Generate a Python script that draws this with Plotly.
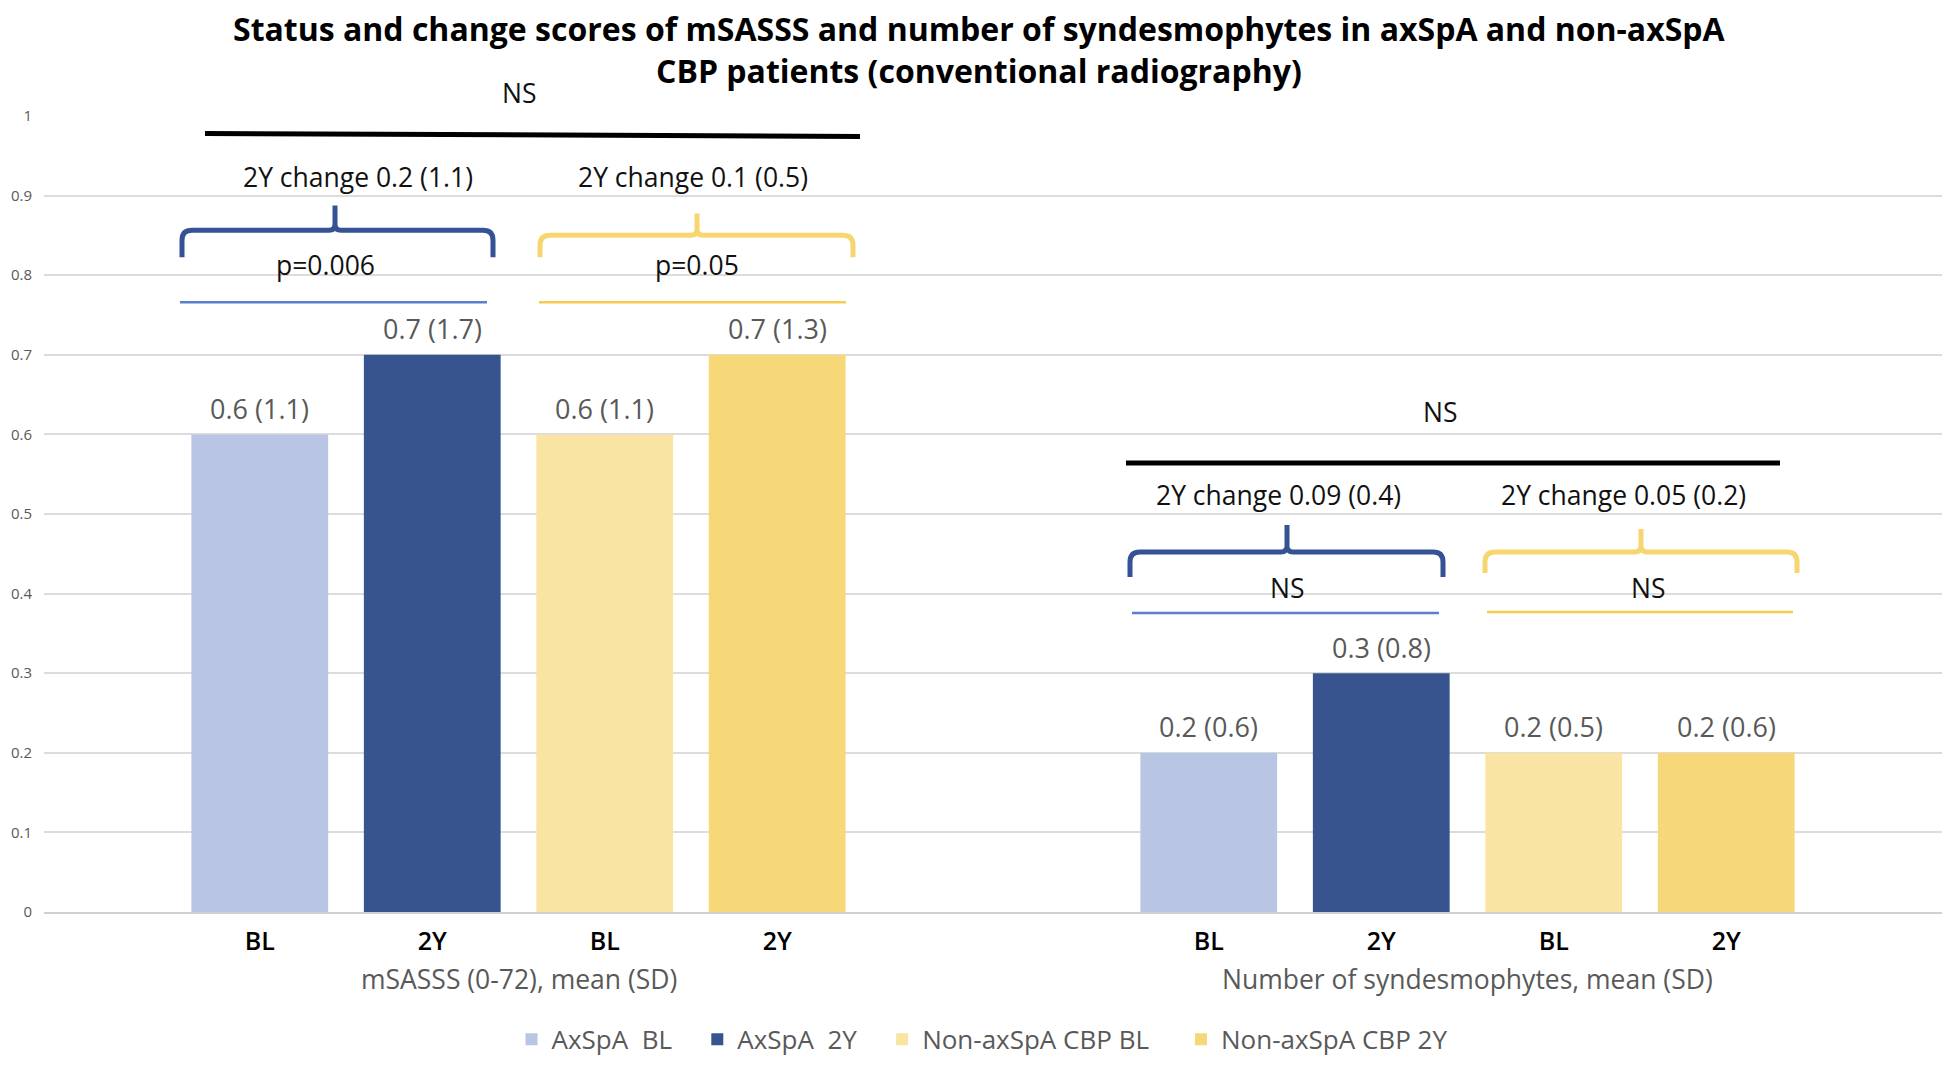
import plotly.graph_objects as go

# ---------------- data ----------------
groups = ["mSASSS (0-72), mean (SD)", "Number of syndesmophytes, mean (SD)"]
series_names = ["AxSpA\u00a0 BL", "AxSpA\u00a0 2Y", "Non-axSpA CBP BL", "Non-axSpA CBP 2Y"]
time_labels = ["BL", "2Y", "BL", "2Y"]

axspa_bl_mean = [0.6, 0.2]
axspa_bl_sd = [1.1, 0.6]
axspa_2y_mean = [0.7, 0.3]
axspa_2y_sd = [1.7, 0.8]
non_bl_mean = [0.6, 0.2]
non_bl_sd = [1.1, 0.5]
non_2y_mean = [0.7, 0.2]
non_2y_sd = [1.3, 0.6]

change_axspa = ["2Y change 0.2 (1.1)", "2Y change 0.09 (0.4)"]
change_non = ["2Y change 0.1 (0.5)", "2Y change 0.05 (0.2)"]
p_axspa = ["p=0.006", "NS"]
p_non = ["p=0.05", "NS"]
p_between = ["NS", "NS"]

y_tickvals = [0, 0.1, 0.2, 0.3, 0.4, 0.5, 0.6, 0.7, 0.8, 0.9, 1]
y_ticktext = ["0", "0.1", "0.2", "0.3", "0.4", "0.5", "0.6", "0.7", "0.8", "0.9", "1"]

# ---------------- style / geometry ----------------
FONT = "Open Sans"
bar_colors = ["#b8c6e4", "#37548f", "#f9e4a3", "#f7d878"]
brace_blue = "#345294"
brace_yellow = "#f7d670"
thin_blue = "#5b7fca"
thin_yellow = "#f5cb50"
BARGAP = 0.273
BARGROUPGAP = 0.207
TXT = 26.5

W, H = 1934, 1049          # page adds an 8px body margin on every side
ML, MR, MT, MB = 36, 0, 107.5, 144.5
PAGE_OFF = 8
PLOT_H = H - MT - MB
PLOT_W = W - ML - MR
CAT_W = PLOT_W / 2


def xr(px):
    """screen x (page px) -> x data units"""
    return (px - PAGE_OFF - ML) / CAT_W - 0.5


def xp(px):
    """screen x (page px) -> paper units"""
    return (px - PAGE_OFF - ML) / PLOT_W


def yr(py):
    """screen y (page px) -> y data units (== paper units, range is [0,1])"""
    return (H - MB - (py - PAGE_OFF)) / PLOT_H


means = [axspa_bl_mean, axspa_2y_mean, non_bl_mean, non_2y_mean]
sds = [axspa_bl_sd, axspa_2y_sd, non_bl_sd, non_2y_sd]
xg = list(range(len(groups)))

slot = (1 - BARGAP) / 4
offsets = [-(1 - BARGAP) / 2 + slot * (k + 0.5) for k in range(4)]
tickvals = [g + o for g in xg for o in offsets]
ticktext = time_labels * len(groups)

# legend names padded so entries are spaced like the original
legend_pad = ["\u00a0" * 3, "\u00a0" * 3, "\u00a0" * 4, ""]

fig = go.Figure()
annotations = []
for i in range(4):
    fig.add_trace(go.Bar(
        x=xg, y=means[i], name=series_names[i] + legend_pad[i],
        marker=dict(color=bar_colors[i], line=dict(width=0)),
        hoverinfo="skip",
    ))
    for g in xg:
        annotations.append(dict(
            x=g + offsets[i], y=means[i][g], xref="x", yref="y",
            text=f"{means[i][g]} ({sds[i][g]})", showarrow=False,
            xanchor="center", yanchor="middle", yshift=26,
            font=dict(family=FONT, size=27, color="#595959")))

# annotation geometry per group (screen px measured on the original)
geo = [
    dict(top_ns=(519, 92), top_line=(205, 860, 133, 136),
         ch_a=(358, 177), ch_n=(692.5, 177),
         br_a=(182, 493, 335, 230, 257, 205),
         br_n=(540, 853, 697, 235, 257, 213),
         p_a=(325, 265), p_n=(697, 265),
         th_a=(180, 487, 302), th_n=(539, 846, 302)),
    dict(top_ns=(1440, 412), top_line=(1126, 1780, 463, 463),
         ch_a=(1278, 495), ch_n=(1623, 495),
         br_a=(1130, 1443, 1287, 552, 577, 525),
         br_n=(1485, 1797, 1641, 552, 573, 529),
         p_a=(1287, 588), p_n=(1648, 588),
         th_a=(1132, 1439, 613), th_n=(1487, 1793, 612)),
]

RX, RY = 10 / CAT_W, 10 / PLOT_H


def brace_path(pl, pr, pm, ph, pe, pt):
    xl, xrr, xm = xr(pl), xr(pr), xr(pm)
    yh, ye, yt = yr(ph), yr(pe), yr(pt)
    rx, ry = RX, RY
    return (f"M {xl},{ye} L {xl},{yh - ry} Q {xl},{yh} {xl + rx},{yh} "
            f"L {xm - rx*0.6},{yh} Q {xm},{yh} {xm},{yh + ry*0.6} L {xm},{yt} "
            f"M {xm},{yh + ry*0.6} Q {xm},{yh} {xm + rx*0.6},{yh} "
            f"L {xrr - rx},{yh} Q {xrr},{yh} {xrr},{yh - ry} L {xrr},{ye}")


shapes = []


def txt(x, y, s, size=TXT, color="#111111", xref="x", yref="y", weight=None, pad=1):
    f = dict(family=FONT, size=size, color=color)
    if weight:
        f["weight"] = weight
    annotations.append(dict(x=x, y=y, xref=xref, yref=yref, text=s, showarrow=False,
                            xanchor="center", yanchor="middle", borderpad=pad, font=f))


for g in xg:
    d = geo[g]
    x0, x1, y0, y1 = d["top_line"]
    shapes.append(dict(type="line", xref="x", yref="y", x0=xr(x0), x1=xr(x1),
                       y0=yr(y0), y1=yr(y1), line=dict(color="#000000", width=5)))
    txt(xr(d["top_ns"][0]), yr(d["top_ns"][1]), p_between[g], yref="paper")
    txt(xr(d["ch_a"][0]), yr(d["ch_a"][1]), change_axspa[g])
    txt(xr(d["ch_n"][0]), yr(d["ch_n"][1]), change_non[g])
    shapes.append(dict(type="path", xref="x", yref="y", path=brace_path(*d["br_a"]),
                       line=dict(color=brace_blue, width=5)))
    shapes.append(dict(type="path", xref="x", yref="y", path=brace_path(*d["br_n"]),
                       line=dict(color=brace_yellow, width=5)))
    txt(xr(d["p_a"][0]), yr(d["p_a"][1]), p_axspa[g])
    txt(xr(d["p_n"][0]), yr(d["p_n"][1]), p_non[g])
    a0, a1, ay = d["th_a"]
    shapes.append(dict(type="line", xref="x", yref="y", x0=xr(a0), x1=xr(a1),
                       y0=yr(ay), y1=yr(ay), line=dict(color=thin_blue, width=2.5)))
    n0, n1, ny = d["th_n"]
    shapes.append(dict(type="line", xref="x", yref="y", x0=xr(n0), x1=xr(n1),
                       y0=yr(ny), y1=yr(ny), line=dict(color=thin_yellow, width=2.5)))
    # group (category) label
    txt(g, yr(980), groups[g], size=26.5, color="#595959", yref="paper")

# title (two lines)
txt(xp(979), yr(28), "<b>Status and change scores of mSASSS and number of syndesmophytes in axSpA and non-axSpA</b>",
    size=32, color="#000000", xref="paper", yref="paper", pad=0)
txt(xp(979), yr(70), "<b>CBP patients (conventional radiography)</b>",
    size=32, color="#000000", xref="paper", yref="paper", pad=0)

fig.update_layout(
    width=W, height=H,
    margin=dict(l=ML, r=MR, t=MT, b=MB, pad=0, autoexpand=False),
    paper_bgcolor="white", plot_bgcolor="white",
    barmode="group", bargap=BARGAP, bargroupgap=BARGROUPGAP,
    shapes=shapes, annotations=annotations,
    showlegend=True,
    legend=dict(orientation="h", x=xp(982), xanchor="center",
                y=yr(1040), yanchor="middle",
                font=dict(family=FONT, size=26, color="#595959"),
                itemclick=False, itemdoubleclick=False, traceorder="normal"),
    font=dict(family=FONT),
)
fig.update_xaxes(range=[-0.5, 1.5], tickvals=tickvals, ticktext=ticktext,
                 showgrid=False, zeroline=False, showline=True,
                 linecolor="#d0d0d0", linewidth=2, ticks="",
                 ticklabelstandoff=6,
                 tickfont=dict(family=FONT, size=25, color="#000000", weight=600))
fig.update_yaxes(range=[0, 1], tickvals=y_tickvals, ticktext=y_ticktext,
                 showgrid=True, gridcolor="#dcdcdc", gridwidth=1.5,
                 zeroline=False, showline=False, ticks="",
                 ticklabelstandoff=11,
                 tickfont=dict(family=FONT, size=15, color="#595959"))

fig.write_html("out.html")
